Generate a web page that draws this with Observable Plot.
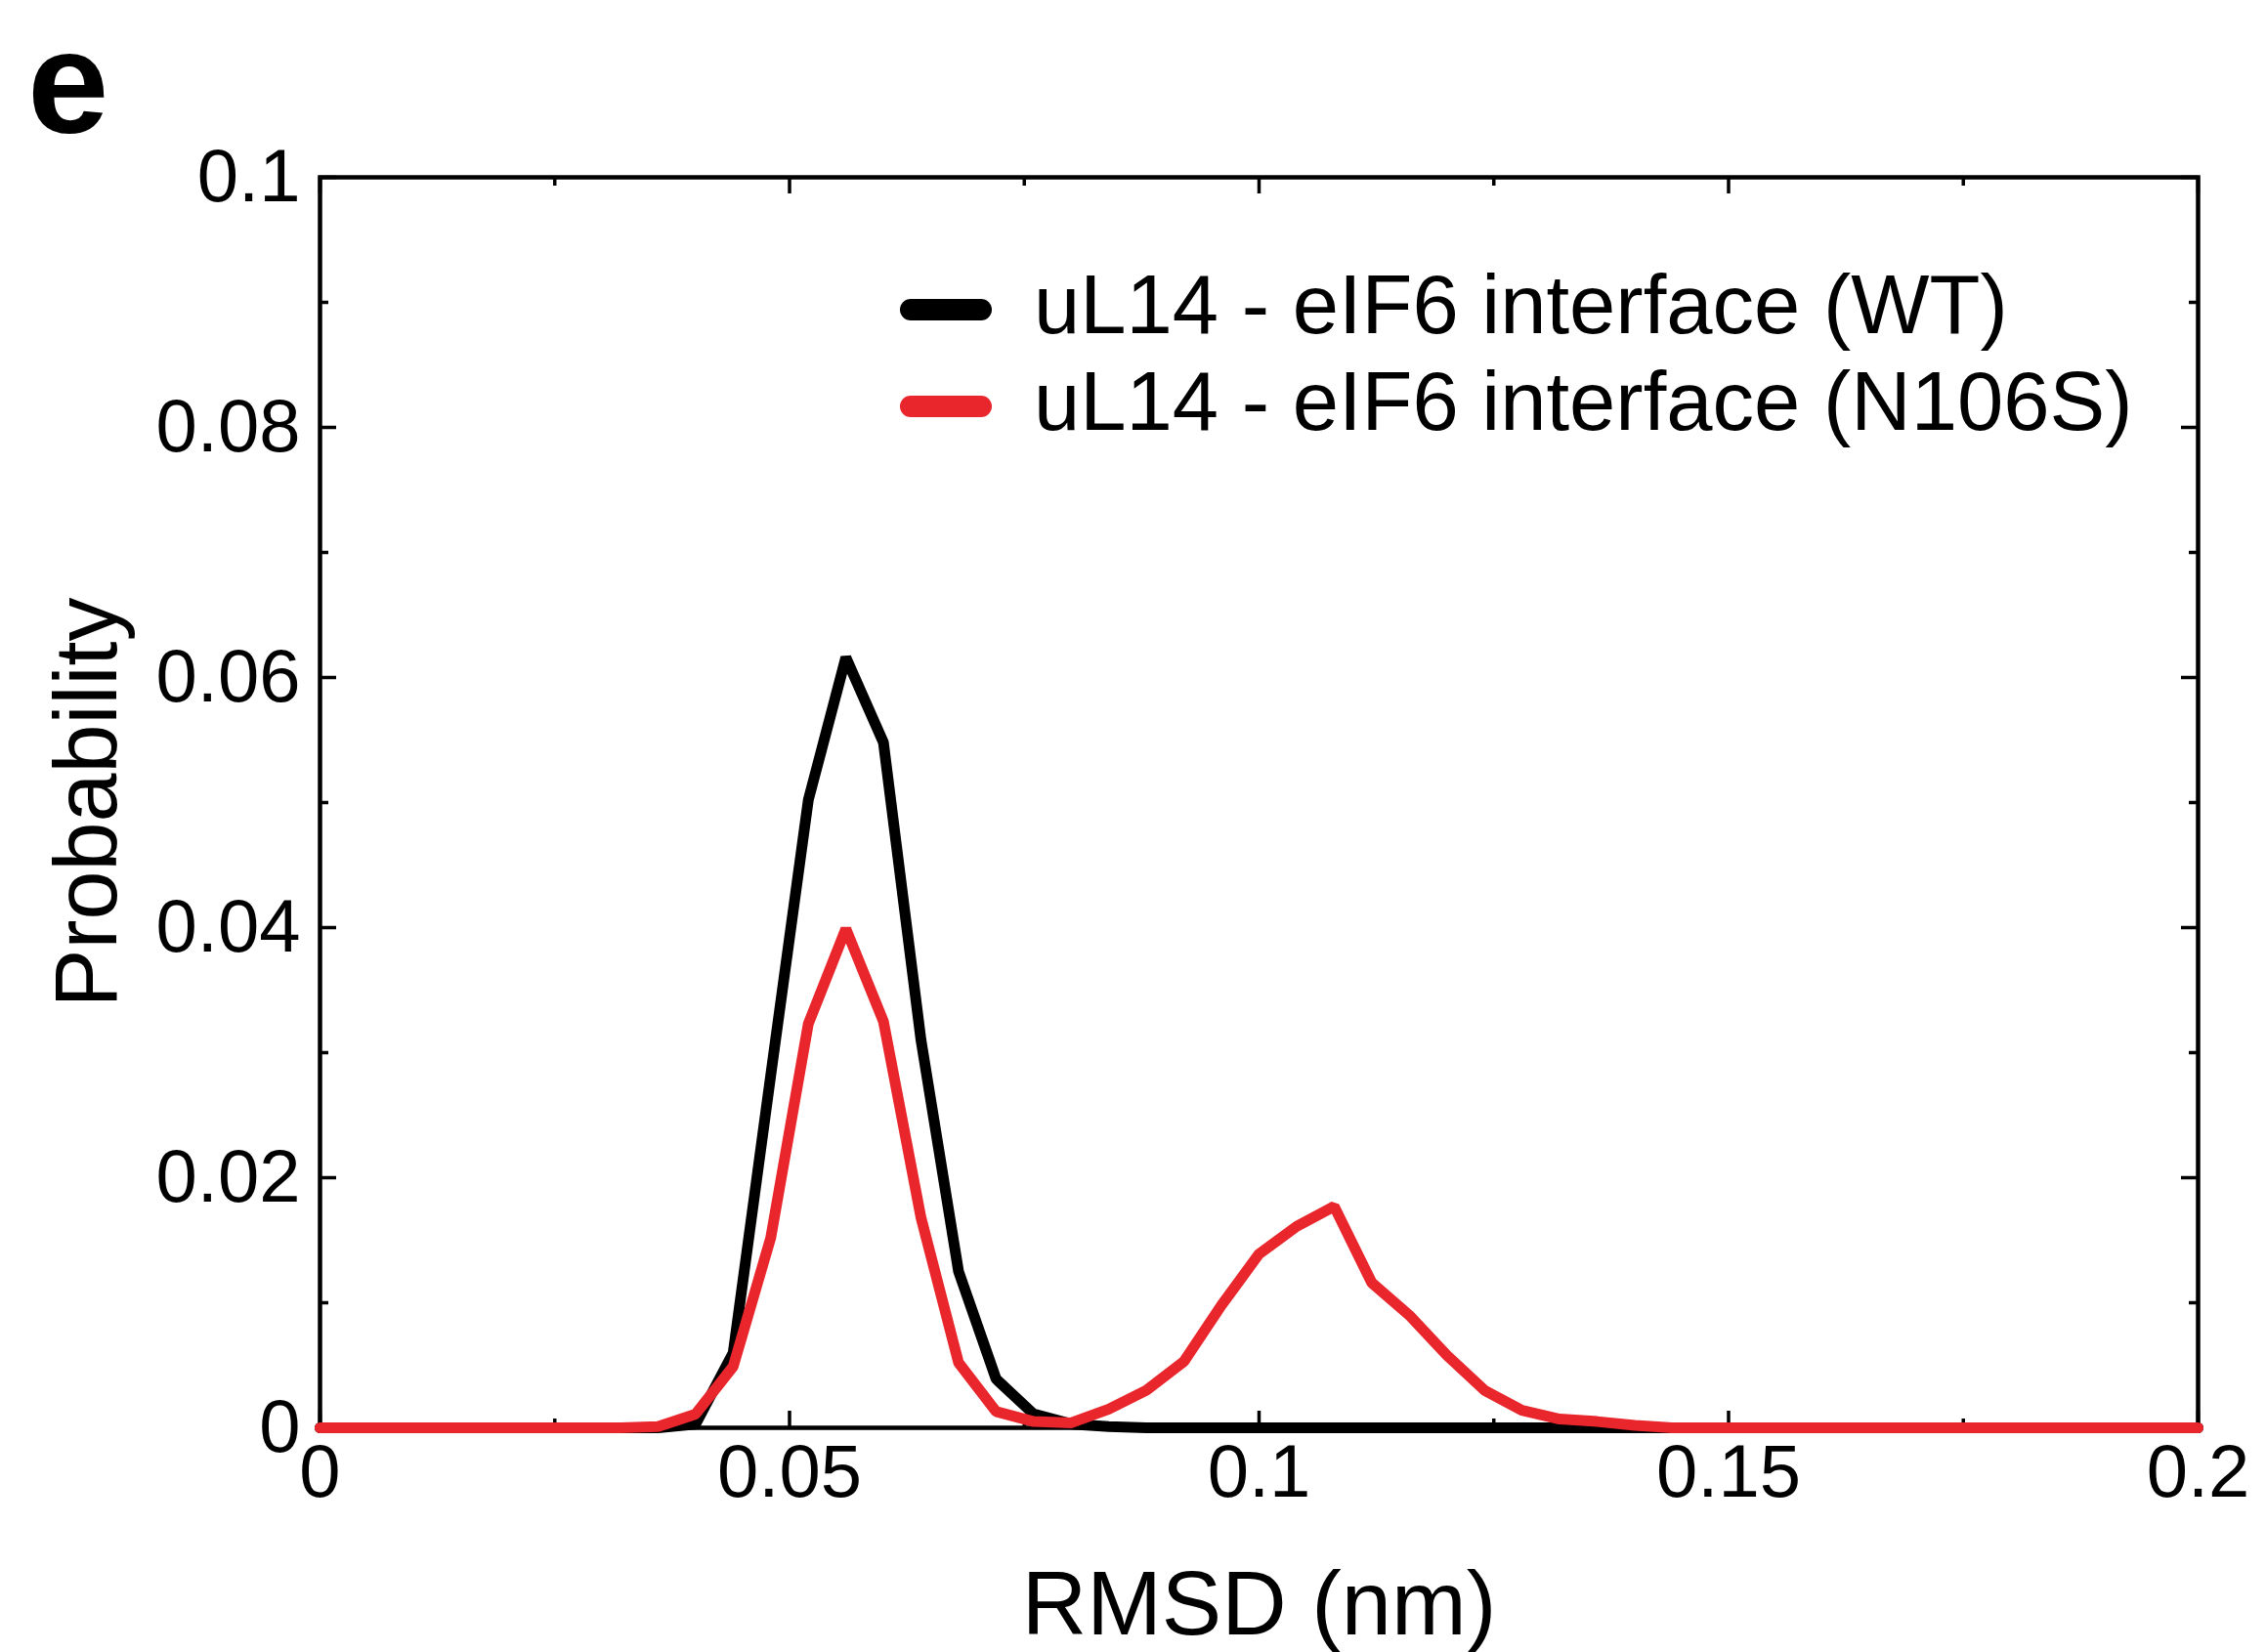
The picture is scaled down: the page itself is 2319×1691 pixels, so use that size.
<!DOCTYPE html>
<html>
<head>
<meta charset="utf-8">
<script src="https://cdn.jsdelivr.net/npm/d3@7"></script>
<script src="https://cdn.jsdelivr.net/npm/@observablehq/plot@0.6"></script>
<style>
  html, body { margin: 0; padding: 0; background: #fff; }
  #chart { width: 2319px; height: 1691px; }
</style>
</head>
<body>
<div id="chart"></div>
<script>
// ---- data ----
const rmsd = [0, 0.004, 0.008, 0.012, 0.016, 0.020, 0.024, 0.028, 0.032, 0.036,
  0.040, 0.044, 0.048, 0.052, 0.056, 0.060, 0.064, 0.068, 0.072, 0.076,
  0.080, 0.084, 0.088, 0.092, 0.096, 0.100, 0.104, 0.108, 0.112, 0.116,
  0.120, 0.124, 0.128, 0.132, 0.136, 0.140, 0.144, 0.148, 0.152, 0.156,
  0.160, 0.164, 0.168, 0.172, 0.176, 0.180, 0.184, 0.188, 0.192, 0.196, 0.200];

const wtProb = [0, 0, 0, 0, 0, 0, 0, 0, 0, 0,
  0.0003, 0.0060, 0.0282, 0.0502, 0.0616, 0.0548, 0.0310, 0.0125, 0.0039, 0.0011,
  0.0003, 0.0001, 0, 0, 0, 0, 0, 0, 0, 0,
  0, 0, 0, 0, 0, 0, 0, 0, 0, 0,
  0, 0, 0, 0, 0, 0, 0, 0, 0, 0, 0];

const n106sProb = [0, 0, 0, 0, 0, 0, 0, 0, 0, 0.0001,
  0.0011, 0.0049, 0.0152, 0.0323, 0.0399, 0.0325, 0.0168, 0.0052, 0.0013, 0.0005,
  0.0004, 0.0015, 0.0030, 0.0053, 0.0098, 0.0139, 0.0161, 0.0177, 0.0116, 0.0090,
  0.0058, 0.0030, 0.0014, 0.0007, 0.0005, 0.0002, 0, 0, 0, 0,
  0, 0, 0, 0, 0, 0, 0, 0, 0, 0, 0];

const seriesNames = ["uL14 - eIF6 interface (WT)", "uL14 - eIF6 interface (N106S)"];
const seriesColors = ["#000000", "#e8262c"];

const xMajorTicks = [0, 0.05, 0.1, 0.15, 0.2];
const xTickLabels = ["0", "0.05", "0.1", "0.15", "0.2"];
const xMinorTicks = [0.025, 0.075, 0.125, 0.175];
const yMajorTicks = [0, 0.02, 0.04, 0.06, 0.08, 0.1];
const yTickLabels = ["0", "0.02", "0.04", "0.06", "0.08", "0.1"];
const yMinorTicks = [0.01, 0.03, 0.05, 0.07, 0.09];

const xTitle = "RMSD (nm)";
const yTitle = "Probability";
const panelLetter = "e";

// ---- layout ----
const W = 2319, H = 1691;
const mL = 327, mR = 70, mT = 181, mB = 230;
const fw = W - mL - mR, fh = H - mT - mB;
const majorLen = 17, minorLen = 9;
const lineW = 11;
const font = "'Liberation Sans', Arial, Helvetica, sans-serif";

const wtData = rmsd.map((x, i) => ({x, p: wtProb[i]}));
const mutData = rmsd.map((x, i) => ({x, p: n106sProb[i]}));

const tickStyle = {stroke: "#000", strokeWidth: 3.5};

const plot = Plot.plot({
  width: W,
  height: H,
  marginLeft: mL,
  marginRight: mR,
  marginTop: mT,
  marginBottom: mB,
  style: {fontFamily: font, background: "#fff", color: "#000"},
  x: {domain: [0, 0.2]},
  y: {domain: [0, 0.1]},
  marks: [
    Plot.frame({stroke: "#000", strokeWidth: 4.5}),
    // inward ticks on all four sides
    Plot.tickX(xMajorTicks, {x: d => d, insetTop: fh - majorLen, ...tickStyle}),
    Plot.tickX(xMajorTicks, {x: d => d, insetBottom: fh - majorLen, ...tickStyle}),
    Plot.tickX(xMinorTicks, {x: d => d, insetTop: fh - minorLen, ...tickStyle}),
    Plot.tickX(xMinorTicks, {x: d => d, insetBottom: fh - minorLen, ...tickStyle}),
    Plot.tickY(yMajorTicks, {y: d => d, insetRight: fw - majorLen, ...tickStyle}),
    Plot.tickY(yMajorTicks, {y: d => d, insetLeft: fw - majorLen, ...tickStyle}),
    Plot.tickY(yMinorTicks, {y: d => d, insetRight: fw - minorLen, ...tickStyle}),
    Plot.tickY(yMinorTicks, {y: d => d, insetLeft: fw - minorLen, ...tickStyle}),
    Plot.axisX({ticks: xMajorTicks, tickSize: 0, tickPadding: 17, fontSize: 76,
      tickFormat: d => xTickLabels[xMajorTicks.indexOf(d)], label: null}),
    Plot.axisY({ticks: yMajorTicks, tickSize: 0, tickPadding: 20, fontSize: 76,
      tickFormat: d => yTickLabels[yMajorTicks.indexOf(d)], label: null}),
    Plot.text([xTitle], {frameAnchor: "bottom", dy: 211, lineAnchor: "bottom", textAnchor: "middle", fontSize: 92, fill: "#000"}),
    Plot.text([yTitle], {frameAnchor: "left", dx: -272, rotate: -90, lineAnchor: "top", textAnchor: "middle", fontSize: 90, fill: "#000"}),
    Plot.line(wtData, {x: "x", y: "p", stroke: seriesColors[0], strokeWidth: lineW, strokeLinejoin: "miter"}),
    Plot.line(mutData, {x: "x", y: "p", stroke: seriesColors[1], strokeWidth: lineW, strokeLinejoin: "miter"})
  ]
});

document.getElementById("chart").appendChild(plot);

const svg = d3.select(plot);
// make sure the series stroke width is applied on the path elements
svg.selectAll("g[aria-label='line'] path")
  .attr("stroke-width", lineW)
  .attr("stroke-linejoin", "miter");

// ---- panel letter and legend ----
svg.append("text")
  .attr("x", 28).attr("y", 136)
  .attr("text-anchor", "start")
  .attr("font-family", font).attr("font-weight", "bold").attr("font-size", 150)
  .attr("fill", "#000")
  .text(panelLetter);

const legend = svg.append("g").attr("text-anchor", "start");
seriesNames.forEach((name, i) => {
  const cy = 317 + i * 99;
  legend.append("line")
    .attr("x1", 932).attr("x2", 1004).attr("y1", cy).attr("y2", cy)
    .attr("stroke", seriesColors[i]).attr("stroke-width", 22).attr("stroke-linecap", "round");
  legend.append("text")
    .attr("x", 1058).attr("y", cy + 24)
    .attr("text-anchor", "start")
    .attr("font-family", font).attr("font-size", 85).attr("fill", "#000")
    .text(name);
});
</script>
</body>
</html>
